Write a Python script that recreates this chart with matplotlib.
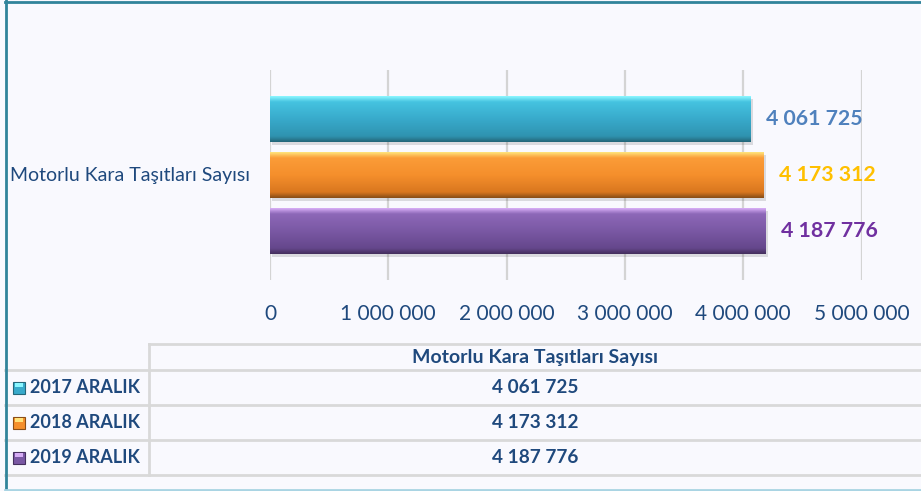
import matplotlib.pyplot as plt
import numpy as np
from matplotlib.colors import LinearSegmentedColormap
from matplotlib.lines import Line2D
from matplotlib.patches import Rectangle

plt.rcParams['font.family'] = ['Lato', 'DejaVu Sans']

# data
category = 'Motorlu Kara Taşıtları Sayısı'
series = ['2017 ARALIK', '2018 ARALIK', '2019 ARALIK']
values = [4061725, 4173312, 4187776]
ticks = [0, 1000000, 2000000, 3000000, 4000000, 5000000]

# bar gradients (top -> bottom) and label colours
grads = [['#8af6ff', '#45c3e0', '#38aacb', '#2f93b0', '#24677a'],
         ['#ffe27a', '#fb9c38', '#f58f2c', '#d9771f', '#8a4e17'],
         ['#d6acf5', '#8d68b8', '#7a58a4', '#65478c', '#45305f']]
stops = [0, 0.12, 0.5, 0.88, 1]
lab_cols = ['#4f81bd', '#ffc000', '#7030a0']
navy = '#1f497d'
bg = '#f9f9fe'


def fmt(v):
    return f'{v:,}'.replace(',', ' ')


fig = plt.figure(figsize=(9.21, 4.91), dpi=100, facecolor=bg)
W, H = 921, 491

ax = fig.add_axes([270 / W, 1 - 280 / H, (861.5 - 270) / W, 210 / H])
ax.set_facecolor(bg)
for s in ax.spines.values():
    s.set_visible(False)
ax.set_xticks(ticks)
ax.set_xticklabels([fmt(t) for t in ticks], fontsize=15, color=navy)
ax.tick_params(axis='x', length=0, pad=17)
ax.set_yticks([])
ax.grid(axis='x', color='#d4d4d4', lw=1.6)
ax.set_axisbelow(True)

h = 0.82
for i, (v, g) in enumerate(zip(values, grads)):
    # shadow
    ax.barh(i + 0.06, v, height=h, left=20000, color='#000000', alpha=0.12, zorder=2)
    bar = ax.barh(i, v, height=h, color=g[2], zorder=3)[0]
    cmap = LinearSegmentedColormap.from_list('g', list(zip(stops, g)))
    grad = np.linspace(0, 1, 64).reshape(-1, 1)
    im = ax.imshow(grad, cmap=cmap, aspect='auto', extent=(0, v, i + h / 2, i - h / 2),
                   zorder=4, interpolation='bilinear')
    im.set_clip_path(bar)
    ax.text(v + 130000, i, fmt(v), va='center', ha='left', fontsize=15.3,
            fontweight='bold', color=lab_cols[i], zorder=5)
ax.set_xlim(0, 5000000)
ax.set_ylim(2.875, -0.875)

fig.text(10 / W, 1 - 175 / H, category, fontsize=14, color=navy, va='center', ha='left')

# data table below the chart
ov = fig.add_axes([0, 0, 1, 1], facecolor='none')
ov.set_xlim(0, W)
ov.set_ylim(H, 0)
ov.axis('off')
grey = '#d9d9d9'
ov.add_line(Line2D([149, W], [344, 344], color=grey, lw=2))
for y in [370, 405, 440, 475]:
    ov.add_line(Line2D([5, W], [y, y], color=grey, lw=2))
ov.add_line(Line2D([149, 149], [344, 475], color=grey, lw=2))
ov.text(535, 357, category, ha='center', va='center', fontsize=14,
        fontweight='bold', color=navy)
for i, (name, v) in enumerate(zip(series, values)):
    yc = 387.5 + 35 * i
    ov.add_patch(Rectangle((13, yc - 6), 12, 12, facecolor=grads[i][2],
                           edgecolor=grads[i][4], lw=0.8))
    ov.add_patch(Rectangle((15, yc - 5), 8, 4, facecolor=grads[i][0], lw=0))
    ov.text(30, yc, name, ha='left', va='center', fontsize=13, fontweight='bold', color=navy)
    ov.text(535, yc, fmt(v), ha='center', va='center', fontsize=13.7,
            fontweight='bold', color=navy)

# frame
ov.add_line(Line2D([5, W], [1.5, 1.5], color='#31849b', lw=2))
ov.add_line(Line2D([5.5, 5.5], [0, H], color='#31849b', lw=2))
ov.add_line(Line2D([5, W], [489.5, 489.5], color='#a9d4e3', lw=2))

fig.savefig('out.png', dpi=100, facecolor=bg)
